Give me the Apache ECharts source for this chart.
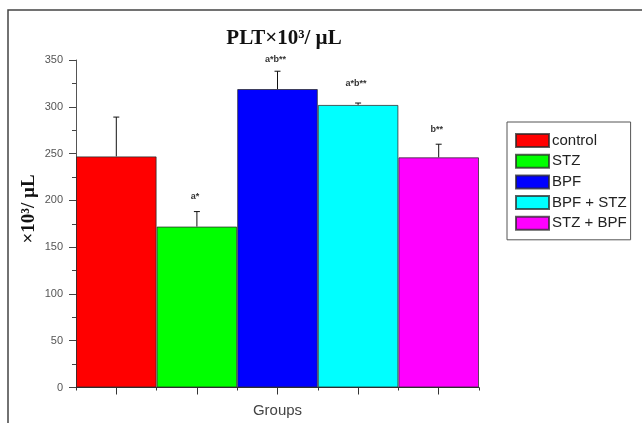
<!DOCTYPE html>
<html>
<head>
<meta charset="utf-8">
<script src="https://cdn.jsdelivr.net/npm/echarts@6/dist/echarts.min.js"></script>
<style>
  html, body { margin: 0; padding: 0; background: #fff; }
  #chart { width: 642px; height: 423px; }
</style>
</head>
<body>
<div id="chart"></div>
<script>
// Platelet count per group (×10³/µL): mean, upper SD, significance marks
const groups = ['control', 'STZ', 'BPF', 'BPF + STZ', 'STZ + BPF'];
const means = [247, 172, 319, 302, 246];
const sds = [42, 16, 19, 2, 14];
const marks = ['', 'a*', 'a*b**', 'a*b**', 'b**'];
const yTicks = [0, 50, 100, 150, 200, 250, 300, 350];

const colors = ['#ff0000', '#00ff00', '#0000ff', '#00ffff', '#ff00ff'];
// vertical gap (px) between whisker cap and its significance mark
const markGap = [0, 15, 12, 20, 15];

const chart = echarts.init(document.getElementById('chart'), null, { renderer: 'canvas' });

// one stacked series per group so each bar fills its category and gets a legend entry
const barSeries = groups.map((name, i) => ({
  name: name,
  type: 'bar',
  stack: 'groups',
  barWidth: '100%',
  xAxisIndex: 0,
  yAxisIndex: 0,
  itemStyle: { color: colors[i], borderColor: 'rgba(40,40,40,0.75)', borderWidth: 1 },
  emphasis: { disabled: true },
  data: groups.map((_, j) => (j === i ? means[i] : '-'))
}));

const errorSeries = {
  type: 'custom',
  xAxisIndex: 0,
  yAxisIndex: 0,
  z: 5,
  silent: true,
  data: groups.map((_, i) => [i, means[i], means[i] + sds[i], markGap[i]]),
  renderItem: function (params, api) {
    const idx = api.value(0);
    const base = api.coord([idx, api.value(1)]);
    const top = api.coord([idx, api.value(2)]);
    const cap = 3;
    const children = [
      { type: 'line', shape: { x1: base[0], y1: base[1], x2: top[0], y2: top[1] },
        style: { stroke: '#111', lineWidth: 1 } },
      { type: 'line', shape: { x1: top[0] - cap, y1: top[1], x2: top[0] + cap, y2: top[1] },
        style: { stroke: '#111', lineWidth: 1 } }
    ];
    const m = marks[params.dataIndex];
    if (m) {
      children.push({
        type: 'text',
        style: {
          text: m, x: top[0] - 2, y: top[1] - api.value(3),
          align: 'center', verticalAlign: 'middle',
          font: 'bold 9px "Liberation Sans", Arial, sans-serif', fill: '#333'
        }
      });
    }
    return { type: 'group', children: children };
  }
};

chart.setOption({
  animation: false,
  backgroundColor: '#fff',
  title: {
    text: 'PLT×10³/ µL',
    left: 279,
    top: 23,
    textAlign: 'center',
    textStyle: { fontFamily: '"Liberation Serif", "Times New Roman", serif', fontWeight: 'bold', fontSize: 21, color: '#111' }
  },
  legend: {
    orient: 'vertical',
    left: 507,
    top: 122,
    padding: [11, 4, 9, 8],
    borderColor: '#555',
    borderWidth: 1,
    itemWidth: 33,
    itemHeight: 13,
    itemGap: 5.7,
    selectedMode: false,
    icon: 'rect',
    data: groups,
    textStyle: { fontFamily: '"Liberation Sans", Arial, sans-serif', fontSize: 15, color: '#222', padding: [0, 0, 0, -2] }
  },
  grid: { left: 76, right: 163, top: 60, bottom: 35.5, containLabel: false, outerBoundsMode: 'none' },
  xAxis: [
    {
      type: 'category',
      data: groups,
      boundaryGap: true,
      axisLine: { lineStyle: { color: '#333', width: 1 } },
      axisTick: { show: true, alignWithLabel: false, length: 3, lineStyle: { color: '#333' } },
      axisLabel: { show: false },
      name: 'Groups',
      nameLocation: 'middle',
      nameGap: 16,
      nameTextStyle: { fontFamily: '"Liberation Sans", Arial, sans-serif', fontSize: 15, color: '#444' }
    },
    {
      type: 'category',
      data: groups,
      boundaryGap: true,
      position: 'bottom',
      axisLine: { show: false },
      axisTick: { show: true, alignWithLabel: true, length: 7, lineStyle: { color: '#333' } },
      axisLabel: { show: false }
    }
  ],
  yAxis: {
    type: 'value',
    min: yTicks[0],
    max: yTicks[yTicks.length - 1],
    interval: 50,
    axisLine: { show: true, lineStyle: { color: '#555', width: 1 } },
    axisTick: { show: true, length: 7, lineStyle: { color: '#444' } },
    minorTick: { show: true, splitNumber: 2, length: 4, lineStyle: { color: '#444' } },
    splitLine: { show: false },
    axisLabel: {
      margin: 13,
      fontFamily: '"Liberation Sans Narrow", "Liberation Sans", Arial, sans-serif',
      fontSize: 11,
      color: '#555'
    }
  },
  graphic: [
    {
      type: 'rect',
      silent: true,
      shape: { x: 8, y: 10, width: 700, height: 500 },
      style: { fill: 'none', stroke: '#444', lineWidth: 1.5 }
    },
    {
      type: 'text',
      silent: true,
      x: 29,
      y: 209,
      rotation: Math.PI / 2,
      style: {
        text: '×10³/ µL',
        align: 'center',
        verticalAlign: 'middle',
        font: 'bold 19px "Liberation Serif", "Times New Roman", serif',
        fill: '#111'
      }
    }
  ],
  series: barSeries.concat([errorSeries])
});
</script>
</body>
</html>
